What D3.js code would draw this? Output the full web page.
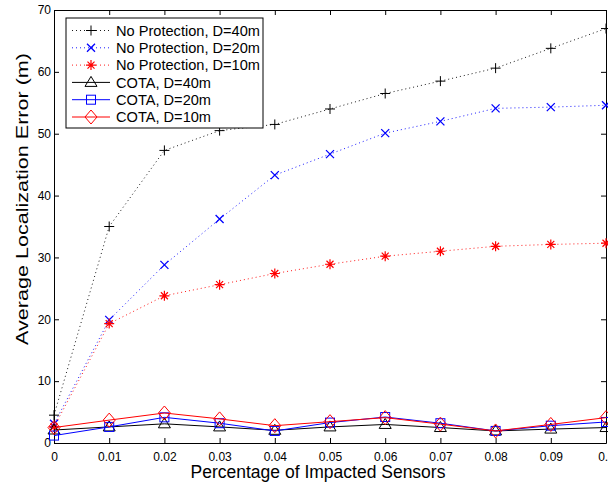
<!DOCTYPE html>
<html>
<head>
<meta charset="utf-8">
<script src="https://cdn.jsdelivr.net/npm/d3@7"></script>
<style>
  body { margin: 0; background: #fff; }
  svg { font-family: "Liberation Sans", Arial, sans-serif; }
  .axis text { font-size: 12px; fill: #000; }
  .axis path, .axis line { stroke: #000; }
</style>
</head>
<body>
<svg width="608" height="487"></svg>
<script>
const xs = [0, 0.01, 0.02, 0.03, 0.04, 0.05, 0.06, 0.07, 0.08, 0.09, 0.1];
const xTicks = xs;
const yTicks = [0, 10, 20, 30, 40, 50, 60, 70];

const np40 = [4.5, 35.0, 47.3, 50.5, 51.5, 54.0, 56.5, 58.5, 60.6, 63.8, 67.0];
const np20 = [3.1, 19.9, 28.8, 36.2, 43.3, 46.7, 50.1, 52.0, 54.1, 54.3, 54.6];
const np10 = [2.6, 19.3, 23.8, 25.6, 27.4, 28.9, 30.2, 31.0, 31.8, 32.1, 32.3];
const cota40 = [2.1, 2.6, 3.1, 2.6, 2.05, 2.6, 3.0, 2.5, 1.95, 2.25, 2.5];
const cota20 = [1.2, 2.6, 4.15, 3.2, 1.95, 3.3, 4.2, 3.2, 1.95, 2.8, 3.4];
const cota10 = [2.5, 3.7, 4.85, 3.9, 2.8, 3.45, 4.1, 3.05, 1.95, 3.0, 4.1];

const series = [
  { name: "No Protection, D=40m", values: np40, color: "#000", dotted: true, marker: "plus" },
  { name: "No Protection, D=20m", values: np20, color: "#0000ff", dotted: true, marker: "cross" },
  { name: "No Protection, D=10m", values: np10, color: "#ff0000", dotted: true, marker: "star" },
  { name: "COTA, D=40m", values: cota40, color: "#000", dotted: false, marker: "triangle" },
  { name: "COTA, D=20m", values: cota20, color: "#0000ff", dotted: false, marker: "square" },
  { name: "COTA, D=10m", values: cota10, color: "#ff0000", dotted: false, marker: "diamond" }
];

const svg = d3.select("svg"),
  margin = { top: 10, right: 2, bottom: 44, left: 54 },
  width = +svg.attr("width") - margin.left - margin.right,
  height = +svg.attr("height") - margin.top - margin.bottom;

const x = d3.scaleLinear().domain([0, 0.1]).range([0, width]),
  y = d3.scaleLinear().domain([0, 70]).range([height, 0]);

const g = svg.append("g").attr("transform", `translate(${margin.left},${margin.top})`);

function drawMarker(sel, type, color) {
  const s = 5;
  if (type === "plus") {
    sel.append("path").attr("d", `M${-s},0H${s}M0,${-s}V${s}`)
      .attr("stroke", color).attr("fill", "none");
  } else if (type === "cross") {
    const c = 4;
    sel.append("path").attr("d", `M${-c},${-c}L${c},${c}M${-c},${c}L${c},${-c}`)
      .attr("stroke", color).attr("stroke-width", 1.3).attr("fill", "none");
  } else if (type === "star") {
    const c = 3.5;
    sel.append("path").attr("d", `M${-s},0H${s}M0,${-s}V${s}M${-c},${-c}L${c},${c}M${-c},${c}L${c},${-c}`)
      .attr("stroke", color).attr("stroke-width", 1.2).attr("fill", "none");
  } else if (type === "triangle") {
    sel.append("path").attr("d", `M0,-6L6,4H-6Z`)
      .attr("stroke", color).attr("fill", "none");
  } else if (type === "square") {
    sel.append("rect").attr("x", -4.5).attr("y", -4.5).attr("width", 9).attr("height", 9)
      .attr("stroke", color).attr("fill", "none");
  } else if (type === "diamond") {
    sel.append("path").attr("d", `M0,-7L6,0L0,7L-6,0Z`)
      .attr("stroke", color).attr("fill", "none");
  }
}

// axes, ticks pointing inward on all four sides
g.append("g").attr("class", "axis")
  .attr("transform", `translate(0,${height})`)
  .call(d3.axisBottom(x).tickValues(xTicks).tickFormat(d => d === 0 ? "0" : d3.format(".2~f")(d)).tickSizeInner(-5).tickSizeOuter(0).tickPadding(9));
g.append("g").attr("class", "axis")
  .call(d3.axisLeft(y).tickValues(yTicks).tickSizeInner(-5).tickSizeOuter(0).tickPadding(3));
g.append("g").attr("class", "axis")
  .call(d3.axisTop(x).tickValues(xTicks).tickFormat("").tickSizeInner(-5).tickSizeOuter(0));
g.append("g").attr("class", "axis")
  .attr("transform", `translate(${width},0)`)
  .call(d3.axisRight(y).tickValues(yTicks).tickFormat("").tickSizeInner(-5).tickSizeOuter(0));

const line = d3.line().x((d, i) => x(xs[i])).y(d => y(d));

series.forEach(s => {
  g.append("path")
    .datum(s.values)
    .attr("fill", "none")
    .attr("stroke", s.color)
    .attr("stroke-width", s.dotted ? 0.9 : 1)
    .attr("stroke-dasharray", s.dotted ? "1,3" : null)
    .attr("d", line);
  s.values.forEach((v, i) => {
    const m = g.append("g").attr("transform", `translate(${x(xs[i])},${y(v)})`);
    drawMarker(m, s.marker, s.color);
  });
});

// legend
const lg = svg.append("g").attr("transform", "translate(66,18)");
lg.append("rect").attr("width", 197).attr("height", 110)
  .attr("fill", "#fff").attr("stroke", "#000");
series.forEach((s, i) => {
  const yy = 12.5 + i * 17.3;
  lg.append("line").attr("x1", 6).attr("x2", 44).attr("y1", yy).attr("y2", yy)
    .attr("stroke", s.color).attr("stroke-width", s.dotted ? 0.9 : 1)
    .attr("stroke-dasharray", s.dotted ? "1,3" : null);
  drawMarker(lg.append("g").attr("transform", `translate(25,${yy})`), s.marker, s.color);
  lg.append("text").attr("x", 50).attr("y", yy).attr("dy", "0.35em")
    .attr("font-size", "14.6px").text(s.name);
});

// axis titles
svg.append("text").attr("x", 318).attr("y", 478).attr("text-anchor", "middle")
  .attr("font-size", "17.5px").text("Percentage of Impacted Sensors");
svg.append("text").attr("transform", "translate(28,199) rotate(-90)").attr("text-anchor", "middle")
  .attr("font-size", "17px")
  .attr("textLength", 292).attr("lengthAdjust", "spacingAndGlyphs")
  .text("Average Localization Error (m)");
</script>
</body>
</html>
